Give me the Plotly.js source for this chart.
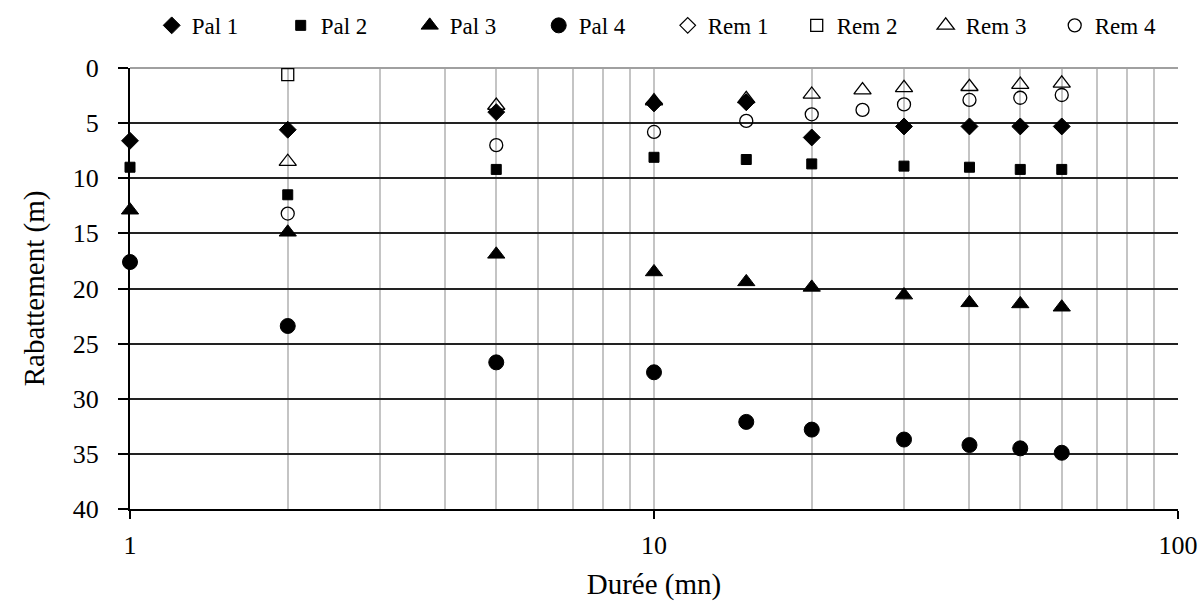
<!DOCTYPE html>
<html>
<head>
<meta charset="utf-8">
<script src="https://cdn.plot.ly/plotly-3.0.1.min.js"></script>
<style>html,body{margin:0;padding:0;background:#fff;}#chart{width:1204px;height:605px;}</style>
</head>
<body>
<div id="chart"></div>
<script>
// Durée (mn)
const tPal = [1, 2, 5, 10, 15, 20, 30, 40, 50, 60];
const pal1 = [6.6, 5.6, 4.0, 3.2, 3.1, 6.3, 5.3, 5.3, 5.3, 5.3];
const pal2 = [9.0, 11.5, 9.2, 8.1, 8.3, 8.7, 8.9, 9.0, 9.2, 9.2];
const pal3 = [12.9, 14.9, 16.9, 18.5, 19.4, 19.9, 20.6, 21.3, 21.4, 21.7];
const pal4 = [17.6, 23.4, 26.7, 27.6, 32.1, 32.8, 33.7, 34.2, 34.5, 34.9];

// Rem 1 is hidden beneath the filled Pal 1 diamonds
const tRem1 = [10, 15];
const rem1 = [3.2, 3.1];
const tRem2 = [2];
const rem2 = [0.6];
const tRem3 = [2, 5, 10, 15, 20, 25, 30, 40, 50, 60];
const rem3 = [8.5, 3.4, 3.0, 2.8, 2.4, 2.0, 1.8, 1.7, 1.5, 1.4];
const tRem4 = [2, 5, 10, 15, 20, 25, 30, 40, 50, 60];
const rem4 = [13.2, 7.0, 5.8, 4.8, 4.2, 3.8, 3.3, 2.9, 2.7, 2.45];

const names = ['Pal 1', 'Pal 2', 'Pal 3', 'Pal 4', 'Rem 1', 'Rem 2', 'Rem 3', 'Rem 4'];
const xTickVals = [1, 10, 100];
const xTickText = ['1', '10', '100'];
const xMinorVals = [2, 3, 4, 5, 6, 7, 8, 9, 20, 30, 40, 50, 60, 70, 80, 90];

function tr(name, x, y, symbol, size, lw) {
  return {
    type: 'scatter', mode: 'markers', name: name, x: x, y: y,
    marker: {symbol: symbol, size: size, color: '#000', line: {color: '#000', width: lw}},
    cliponaxis: false
  };
}

const data = [
  tr(names[4], tRem1, rem1, 'diamond-open', 12, 1.2),
  tr(names[0], tPal, pal1, 'diamond', 13, 1),
  tr(names[1], tPal, pal2, 'square', 10, 1),
  tr(names[2], tPal, pal3, 'triangle-up', 15, 1),
  tr(names[3], tPal, pal4, 'circle', 15, 1),
  tr(names[5], tRem2, rem2, 'square-open', 12, 1.3),
  tr(names[6], tRem3, rem3, 'triangle-up-open', 15, 1.3),
  tr(names[7], tRem4, rem4, 'circle-open', 13, 1.3)
];
// legend order as in the reference
const order = [1, 2, 3, 4, 0, 5, 6, 7];
order.forEach((k, i) => { data[k].legendrank = i + 1; });

const ff = 'Times New Roman, Liberation Serif, DejaVu Serif, serif';
const font = {family: ff, color: '#000'};

const layout = {
  width: 1204, height: 605,
  paper_bgcolor: '#fff', plot_bgcolor: '#fff',
  margin: {l: 130, r: 26, t: 68, b: 96, autoexpand: false},
  font: Object.assign({size: 22}, font),
  showlegend: true,
  legend: {
    orientation: 'h', xref: 'container', yref: 'container',
    x: 0.126, xanchor: 'left', y: 0.958, yanchor: 'middle',
    entrywidth: 84, entrywidthmode: 'pixels', itemwidth: 30,
    font: Object.assign({size: 23}, font), tracegroupgap: 0,
    bgcolor: 'rgba(0,0,0,0)'
  },
  xaxis: {
    type: 'log', range: [0, 2],
    tickmode: 'array', tickvals: xTickVals, ticktext: xTickText,
    showgrid: true, gridcolor: '#c4c4c4', gridwidth: 2,
    minor: {tickmode: 'array', tickvals: xMinorVals, showgrid: true, gridcolor: '#c4c4c4', gridwidth: 2, ticks: ''},
    showline: true, linecolor: '#000', linewidth: 2,
    ticks: 'outside', ticklen: 8, tickcolor: '#000', tickwidth: 1.5,
    ticklabelstandoff: 4,
    tickfont: Object.assign({size: 26}, font),
    zeroline: false,
    title: {text: 'Durée (mn)', font: Object.assign({size: 29}, font), standoff: 14}
  },
  yaxis: {
    range: [40, 0], dtick: 5, tick0: 0,
    showgrid: true, gridcolor: '#222', gridwidth: 2,
    zeroline: true, zerolinecolor: '#a0a0a0', zerolinewidth: 2,
    showline: true, linecolor: '#000', linewidth: 2,
    ticks: 'outside', ticklen: 10, tickcolor: '#000', tickwidth: 2,
    ticklabelstandoff: 14,
    tickfont: Object.assign({size: 26}, font),
    title: {text: 'Rabattement (m)', font: Object.assign({size: 29}, font), standoff: 20}
  }
};

Plotly.newPlot('chart', data, layout, {displayModeBar: false, staticPlot: true});
</script>
</body>
</html>
